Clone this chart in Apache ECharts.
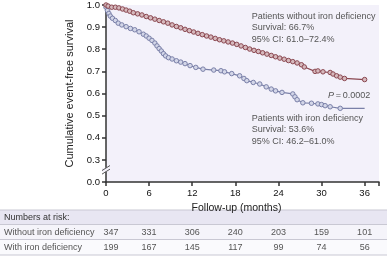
<!DOCTYPE html>
<html>
<head>
<meta charset="utf-8">
<script src="https://cdn.jsdelivr.net/npm/echarts@6/dist/echarts.min.js"></script>
<style>
html, body { margin: 0; padding: 0; background: #fff; }
#chart { width: 387px; height: 258px; }
</style>
</head>
<body>
<div id="chart"></div>
<script>
// survival curves: [month, survival]
const withoutIron = [
  [0, 1.0], [0.3, 0.995], [0.8, 0.99], [1.3, 0.99], [1.8, 0.987], [2.3, 0.982], [2.8, 0.977],
  [3.3, 0.972], [3.8, 0.965], [4.4, 0.96], [5.0, 0.955], [5.6, 0.948], [6.2, 0.942], [6.8, 0.936],
  [7.4, 0.93], [8.0, 0.924], [8.6, 0.918], [9.2, 0.91], [9.8, 0.903], [10.4, 0.897], [11.0, 0.89],
  [11.6, 0.884], [12.2, 0.878], [12.8, 0.872], [13.4, 0.866], [14.0, 0.86], [14.6, 0.855],
  [15.2, 0.849], [15.8, 0.843], [16.4, 0.838], [17.0, 0.833], [17.6, 0.828], [18.2, 0.822],
  [18.8, 0.815], [19.4, 0.808], [20.0, 0.801], [20.6, 0.795], [21.2, 0.79], [21.8, 0.784],
  [22.4, 0.778], [23.0, 0.772], [23.6, 0.766], [24.2, 0.76], [24.8, 0.755], [25.4, 0.749],
  [26.0, 0.744], [26.6, 0.738], [27.2, 0.73], [27.6, 0.72], [29.1, 0.70], [29.5, 0.702],
  [30.2, 0.698], [31.2, 0.695], [31.6, 0.688], [32.1, 0.68], [32.6, 0.674], [33.2, 0.668],
  [36.0, 0.663]
];
const withIron = [
  [0, 0.99], [0.2, 0.975], [0.4, 0.962], [0.6, 0.95], [0.9, 0.94], [1.3, 0.93], [1.7, 0.918],
  [2.2, 0.91], [2.8, 0.902], [3.4, 0.894], [4.0, 0.888], [4.6, 0.879], [5.2, 0.868], [5.6, 0.86],
  [6.0, 0.85], [6.4, 0.84], [6.8, 0.828], [7.1, 0.815], [7.4, 0.803], [7.7, 0.792], [8.0, 0.78],
  [8.3, 0.77], [8.7, 0.762], [9.2, 0.756], [9.8, 0.748], [10.4, 0.742], [11.0, 0.735],
  [11.7, 0.726], [12.5, 0.718], [13.5, 0.71], [15.0, 0.706], [16.0, 0.703], [16.5, 0.698],
  [17.5, 0.69], [18.6, 0.68], [19.2, 0.668], [19.6, 0.658], [20.5, 0.65], [21.4, 0.643],
  [22.3, 0.63], [23.0, 0.62], [23.6, 0.612], [24.5, 0.605], [26.0, 0.598], [26.3, 0.585],
  [26.6, 0.572], [27.4, 0.558], [28.6, 0.556], [29.5, 0.553], [30.0, 0.55], [30.5, 0.545],
  [31.2, 0.54], [32.6, 0.533]
];
const withIronEnd = 36;

// numbers at risk table
const riskMonths = [0, 6, 12, 18, 24, 30, 36];
const riskWithout = [347, 331, 306, 240, 203, 159, 101];
const riskWith = [199, 167, 145, 117, 99, 74, 56];
const riskLabels = ['Without iron deficiency', 'With iron deficiency'];

const redLine = '#8a4750';
const blueLine = '#7a80a8';
const txtFont = 'Liberation Sans, Arial, sans-serif';

const chart = echarts.init(document.getElementById('chart'));

const lowerData = withIron.map(p => p.slice());
lowerData.push({ value: [withIronEnd, withIron[withIron.length - 1][1]], symbol: 'none' });

const option = {
  animation: false,
  grid: {
    left: 106, right: 8, top: 4, bottom: 76,
    show: true, backgroundColor: '#f3f1fa', borderWidth: 0
  },
  xAxis: {
    type: 'value', min: 0, max: 38, interval: 6,
    axisLine: { lineStyle: { color: '#333', width: 1.5 } },
    axisTick: { length: 4, lineStyle: { color: '#333', width: 1.5 } },
    axisLabel: {
      color: '#111', fontSize: 9.5, fontFamily: txtFont, margin: 6,
      formatter: v => (v % 6 === 0 && v <= 36) ? String(v) : ''
    },
    splitLine: { show: false },
    name: 'Follow-up (months)', nameLocation: 'middle', nameGap: 21,
    nameTextStyle: { color: '#222', fontSize: 10.5, fontFamily: txtFont, padding: [0, 12, 0, 0] }
  },
  yAxis: {
    type: 'value', min: 0.2, max: 1.0, interval: 0.1,
    axisLine: { show: true, lineStyle: { color: '#333', width: 1.5 } },
    axisTick: { show: true, length: 4, lineStyle: { color: '#333', width: 1.5 } },
    axisLabel: {
      color: '#111', fontSize: 9.5, fontFamily: txtFont, margin: 6,
      formatter: v => v < 0.25 ? '0.0' : v.toFixed(1)
    },
    splitLine: { show: false },
    name: 'Cumulative event-free survival', nameLocation: 'middle', nameGap: 31,
    nameTextStyle: { color: '#222', fontSize: 11, fontFamily: txtFont }
  },
  series: [
    {
      type: 'line', data: withoutIron, symbol: 'circle', symbolSize: 4.5, showAllSymbol: true,
      lineStyle: { color: redLine, width: 1.2 },
      itemStyle: { color: '#d6b9bd', borderColor: redLine, borderWidth: 1 },
      z: 3
    },
    {
      type: 'line', data: lowerData, symbol: 'circle', symbolSize: 4.5, showAllSymbol: true,
      lineStyle: { color: blueLine, width: 1.2 },
      itemStyle: { color: '#d3d6e8', borderColor: blueLine, borderWidth: 1 },
      z: 2
    }
  ]
};
chart.setOption(option);

// annotations, axis break and the numbers-at-risk table
const px = t => chart.convertToPixel({ xAxisIndex: 0 }, t);
const py = v => chart.convertToPixel({ yAxisIndex: 0 }, v);
const annStyle = { fill: '#555', font: '9px ' + txtFont, textVerticalAlign: 'middle' };
const graphics = [];

const annX = px(20.3);
['Patients without iron deficiency', 'Survival: 66.7%', '95% CI: 61.0\u201372.4%'].forEach((s, i) => {
  graphics.push({ type: 'text', left: annX, top: 12 + i * 11.5, style: Object.assign({ text: s }, annStyle) });
});
['Patients with iron deficiency', 'Survival: 53.6%', '95% CI: 46.2\u201361.0%'].forEach((s, i) => {
  graphics.push({ type: 'text', left: annX, top: 114 + i * 11.5, style: Object.assign({ text: s }, annStyle) });
});
graphics.push({
  type: 'text', x: px(36.8), y: py(0.592),
  style: {
    text: '{i|P}\u2009=\u20090.0002', fill: '#555', font: '9px ' + txtFont,
    textAlign: 'right', textVerticalAlign: 'middle',
    rich: { i: { fontStyle: 'italic', fontSize: 9, fontFamily: txtFont, fill: '#555' } }
  }
});

// axis break marks
const bx = px(0), by = py(0.255);
graphics.push({ type: 'rect', shape: { x: bx - 4, y: by - 2, width: 8, height: 4 }, style: { fill: '#f3f1fa' }, z: 10 });
[-1.8, 1.8].forEach(d => {
  graphics.push({
    type: 'line', z: 11,
    shape: { x1: bx - 4, y1: by + d + 2.5, x2: bx + 4, y2: by + d - 2.5 },
    style: { stroke: '#555', lineWidth: 1 }
  });
});

// table background and rules
const W = 387;
graphics.push({ type: 'rect', shape: { x: 0, y: 210, width: W, height: 14 }, style: { fill: '#e8e6f2' } });
graphics.push({ type: 'rect', shape: { x: 0, y: 225, width: W, height: 15 }, style: { fill: '#f5f4fa' } });
graphics.push({ type: 'rect', shape: { x: 0, y: 240, width: W, height: 15 }, style: { fill: '#fafafd' } });
[210, 224.5, 239.5, 255].forEach(y => {
  graphics.push({ type: 'line', shape: { x1: 0, y1: y, x2: W, y2: y }, style: { stroke: '#c9c8d3', lineWidth: 1 } });
});
const tblStyle = { fill: '#555', font: '9px ' + txtFont, textVerticalAlign: 'middle' };
graphics.push({ type: 'text', x: 4, y: 217.5, style: Object.assign({}, tblStyle, { text: 'Numbers at risk:', fill: '#333' }) });
[riskWithout, riskWith].forEach((row, r) => {
  const y = 232.5 + r * 15;
  graphics.push({ type: 'text', x: 4, y: y, style: Object.assign({}, tblStyle, { text: riskLabels[r] }) });
  row.forEach((n, i) => {
    graphics.push({
      type: 'text', x: px(riskMonths[i]) + (i === 0 ? 5 : 0), y: y,
      style: Object.assign({}, tblStyle, { text: String(n), textAlign: 'center' })
    });
  });
});

chart.setOption({ graphic: graphics });
</script>
</body>
</html>
